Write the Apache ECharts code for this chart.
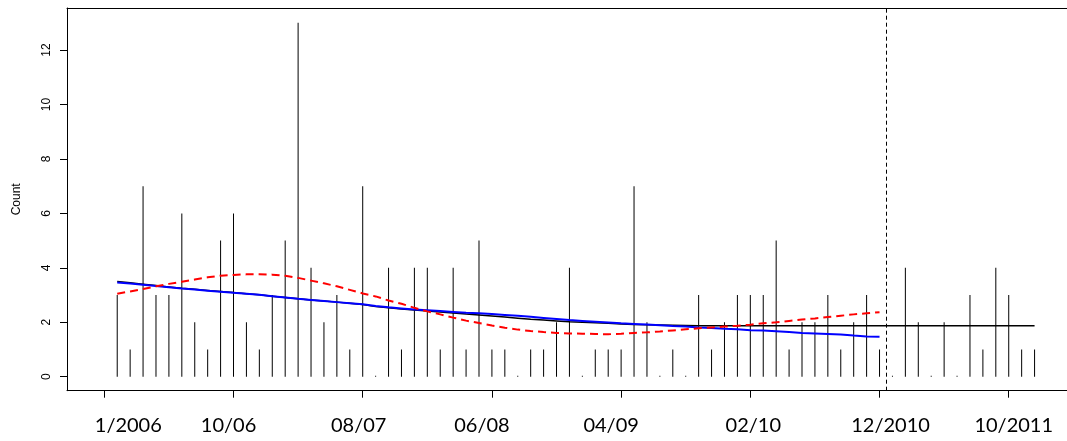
<!DOCTYPE html>
<html>
<head>
<meta charset="utf-8">
<title>Count</title>
<script src="https://cdn.jsdelivr.net/npm/echarts@6/dist/echarts.min.js"></script>
<style>
  html, body { margin: 0; padding: 0; background: #fff; }
  #chart { width: 1067px; height: 441px; }
</style>
</head>
<body>
<div id="chart"></div>
<script>
// monthly counts, month 1 is the first bar
const counts = [
  3, 1, 7, 3, 3, 6, 2, 1, 5, 6, 2, 1, 3, 5, 13, 4, 2, 3, 1, 7, 0, 4,
  1, 4, 4, 1, 4, 1, 5, 1, 1, 0, 1, 1, 2, 4, 0, 1, 1, 1, 7, 2, 0, 1, 0, 3, 1,
  2, 3, 3, 3, 5, 1, 2, 2, 3, 1, 2, 3, 1, 0, 4, 2, 0, 2, 0, 3, 1, 4, 3, 1, 1
];

// x axis ticks (month index) and their labels
const tickMonths = [0, 10, 20, 30, 40, 50, 60, 70];
const tickLabels = ['1/2006', '10/06', '08/07', '06/08', '04/09', '02/10', '12/2010', '10/2011'];
const yTicks = [0, 2, 4, 6, 8, 10, 12];

// blue fitted trend, months 1..60
const blueFit = [
  3.46, 3.42, 3.38, 3.33, 3.29, 3.24, 3.20, 3.16, 3.12, 3.08,
  3.05, 3.01, 2.96, 2.91, 2.86, 2.82, 2.78, 2.74, 2.70, 2.66,
  2.60, 2.55, 2.51, 2.47, 2.44, 2.41, 2.38, 2.35, 2.33, 2.30,
  2.27, 2.24, 2.20, 2.16, 2.12, 2.08, 2.05, 2.02, 1.99, 1.96,
  1.94, 1.92, 1.89, 1.86, 1.84, 1.81, 1.79, 1.76, 1.74, 1.71,
  1.70, 1.67, 1.64, 1.61, 1.59, 1.57, 1.55, 1.51, 1.48, 1.47
];

// red dashed smoother, months 1..60
const redSmooth = [
  3.05, 3.13, 3.22, 3.32, 3.41, 3.49, 3.57, 3.65, 3.71, 3.74,
  3.76, 3.76, 3.75, 3.71, 3.63, 3.53, 3.43, 3.32, 3.19, 3.06,
  2.95, 2.80, 2.68, 2.53, 2.40, 2.29, 2.17, 2.06, 1.97, 1.88,
  1.80, 1.73, 1.68, 1.64, 1.61, 1.59, 1.58, 1.57, 1.56, 1.58,
  1.61, 1.63, 1.66, 1.70, 1.74, 1.78, 1.81, 1.84, 1.87, 1.91,
  1.96, 2.00, 2.05, 2.10, 2.14, 2.19, 2.24, 2.29, 2.33, 2.37
];

// black fit, months 1..72 (flat forecast after the cut)
const blackFit = [
  3.50, 3.45, 3.40, 3.35, 3.30, 3.25, 3.21, 3.17, 3.13, 3.09,
  3.05, 3.01, 2.96, 2.91, 2.86, 2.82, 2.78, 2.74, 2.70, 2.65,
  2.58, 2.53, 2.49, 2.45, 2.41, 2.38, 2.34, 2.30, 2.27, 2.23,
  2.19, 2.15, 2.11, 2.08, 2.05, 2.02, 2.00, 1.98, 1.96, 1.94,
  1.92, 1.91, 1.90, 1.89, 1.88, 1.87, 1.87, 1.87, 1.87, 1.87,
  1.87, 1.87, 1.87, 1.87, 1.87, 1.87, 1.87, 1.87, 1.87, 1.87,
  1.87, 1.87, 1.87, 1.87, 1.87, 1.87, 1.87, 1.87, 1.87, 1.87,
  1.87, 1.87
];

const cutMonth = 60.5;

// layout measured on the reference
const PX_PER_MONTH = 12.92;
const LABEL_SHIFT = [24, -5, -4, -10, -10, 3, 11, 5]; // px, label centre vs tick
const labelAt = tickMonths.map((m, k) => m + LABEL_SHIFT[k] / PX_PER_MONTH);

const byMonth = arr => arr.map((v, k) => [k + 1, v]);

const chart = echarts.init(document.getElementById('chart'), null, { renderer: 'canvas' });

const option = {
  animation: false,
  backgroundColor: '#fff',
  grid: { left: 67, right: 0, top: 8, bottom: 50.3, containLabel: false },
  xAxis: [
    {
      type: 'value',
      position: 'bottom',
      min: -2.887,
      max: 74.51,
      splitLine: { show: false },
      axisLine: { show: true, onZero: false, lineStyle: { color: '#000', width: 1 } },
      axisTick: { show: true, customValues: tickMonths, length: 7, lineStyle: { color: '#000' } },
      axisLabel: {
        customValues: labelAt,
        margin: 25,
        color: '#000',
        fontFamily: 'Lato',
        fontSize: 20,
        formatter: v => {
          let best = 0;
          labelAt.forEach((p, k) => { if (Math.abs(p - v) < Math.abs(labelAt[best] - v)) best = k; });
          return tickLabels[best];
        }
      }
    },
    {
      type: 'value',
      position: 'top',
      min: -2.887,
      max: 74.51,
      splitLine: { show: false },
      axisLine: { show: true, onZero: false, lineStyle: { color: '#000', width: 1 } },
      axisTick: { show: false },
      axisLabel: { show: false }
    }
  ],
  yAxis: {
    type: 'value',
    min: -0.514,
    max: 13.545,
    name: 'Count',
    nameLocation: 'middle',
    nameGap: 44,
    nameRotate: 90,
    nameTextStyle: { color: '#000', fontFamily: 'Liberation Sans', fontSize: 12 },
    splitLine: { show: false },
    axisLine: { show: true, onZero: false, lineStyle: { color: '#000', width: 1 } },
    axisTick: { show: true, customValues: yTicks, length: 7, lineStyle: { color: '#000' } },
    axisLabel: {
      customValues: yTicks,
      rotate: 90,
      margin: 14,
      color: '#000',
      fontFamily: 'Liberation Sans',
      fontSize: 12
    }
  },
  series: [
    {
      name: 'counts',
      type: 'bar',
      data: byMonth(counts),
      barWidth: 1,
      barMinHeight: 1,
      itemStyle: { color: '#000' },
      silent: true,
      markLine: {
        silent: true,
        symbol: 'none',
        label: { show: false },
        lineStyle: { color: '#000', type: [4, 3], width: 1 },
        data: [{ xAxis: cutMonth }]
      }
    },
    {
      name: 'black fit',
      type: 'line',
      data: byMonth(blackFit),
      showSymbol: false,
      symbol: 'none',
      lineStyle: { color: '#000', width: 1.5 },
      silent: true
    },
    {
      name: 'blue fit',
      type: 'line',
      data: byMonth(blueFit),
      showSymbol: false,
      symbol: 'none',
      lineStyle: { color: '#0000ff', width: 2 },
      silent: true
    },
    {
      name: 'red smooth',
      type: 'line',
      data: byMonth(redSmooth),
      showSymbol: false,
      symbol: 'none',
      lineStyle: { color: '#ff0000', width: 2, type: [8, 5] },
      silent: true
    }
  ]
};

chart.setOption(option);
window.addEventListener('resize', () => chart.resize());
</script>
</body>
</html>
